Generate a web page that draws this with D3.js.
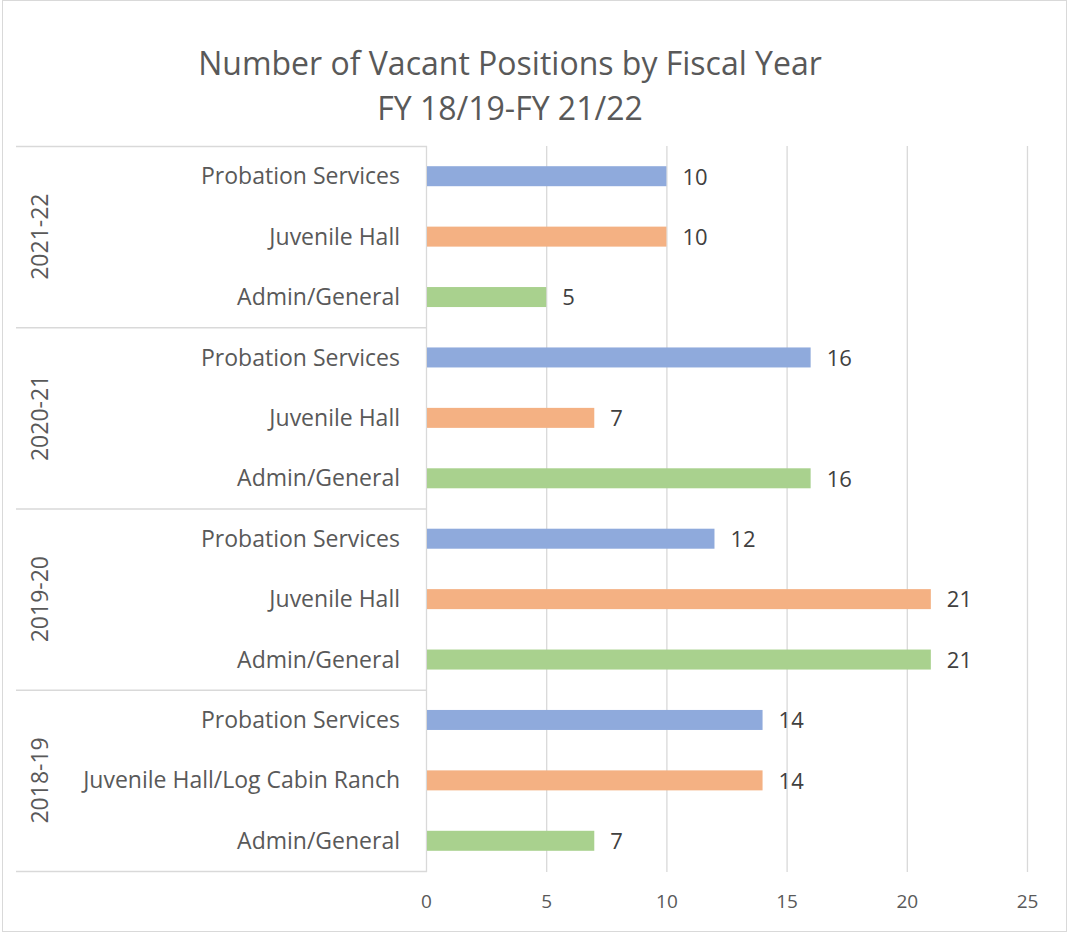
<!DOCTYPE html>
<html>
<head>
<meta charset="utf-8">
<script src="https://cdn.jsdelivr.net/npm/d3@7"></script>
<style>
  body { margin: 0; background: #fff; }
  text { font-family: "Open Sans", sans-serif; }
</style>
</head>
<body>
<div id="chart"></div>
<script>
// fiscal years, top to bottom
const years = ["2021-22", "2020-21", "2019-20", "2018-19"];
const units = [
    ["Probation Services", "Juvenile Hall", "Admin/General"],
    ["Probation Services", "Juvenile Hall", "Admin/General"],
    ["Probation Services", "Juvenile Hall", "Admin/General"],
    ["Probation Services", "Juvenile Hall/Log Cabin Ranch", "Admin/General"]
];
const vacancies = [
    [10, 10, 5],
    [16, 7, 16],
    [12, 21, 21],
    [14, 14, 7]
];
const xTicks = [0, 5, 10, 15, 20, 25];
const colors = ["#8faadc", "#f4b183", "#a9d18e"];

const W = 1068, H = 934;
const plot = { left: 426, right: 1027, top: 146, bottom: 871 };

const svg = d3.select("#chart").append("svg")
    .attr("width", W)
    .attr("height", H);

svg.append("rect")
    .attr("x", 2.5).attr("y", 0.5)
    .attr("width", W - 4).attr("height", H - 3)
    .attr("fill", "#fff")
    .attr("stroke", "#d9d9d9");

// title
const title = svg.append("text")
    .attr("text-anchor", "middle")
    .attr("fill", "#595959")
    .style("font-size", "32px");
title.append("tspan").attr("x", 510).attr("y", 75).text("Number of Vacant Positions by Fiscal Year");
title.append("tspan").attr("x", 510).attr("y", 120).text("FY 18/19-FY 21/22");

const x = d3.scaleLinear().domain([0, 25]).range([plot.left, plot.right]);

const rows = [];
years.forEach((yr, i) => {
    units[i].forEach((u, j) => {
        rows.push({ key: yr + "|" + j, year: yr, unit: u, value: vacancies[i][j], k: j });
    });
});

const yGroup = d3.scaleBand().domain(years).range([plot.top, plot.bottom]);
const y = d3.scaleBand().domain(rows.map(d => d.key)).range([plot.top, plot.bottom]);
const barH = 20;

// gridlines
svg.append("g")
    .selectAll("line")
    .data(xTicks.slice(1))
    .enter().append("line")
    .attr("x1", d => x(d) + 0.5).attr("x2", d => x(d) + 0.5)
    .attr("y1", plot.top).attr("y2", plot.bottom + 1)
    .attr("stroke", "#d9d9d9")
    .attr("stroke-width", 1.3);

// category axis lines
svg.append("line")
    .attr("x1", plot.left + 0.5).attr("x2", plot.left + 0.5)
    .attr("y1", plot.top).attr("y2", plot.bottom + 1)
    .attr("stroke", "#d9d9d9").attr("stroke-width", 1.3);

svg.append("g")
    .selectAll("line")
    .data(years.concat(["end"]))
    .enter().append("line")
    .attr("x1", 16).attr("x2", plot.left + 1)
    .attr("y1", (d, i) => (i < years.length ? yGroup(d) : plot.bottom) + 0.5)
    .attr("y2", (d, i) => (i < years.length ? yGroup(d) : plot.bottom) + 0.5)
    .attr("stroke", "#d9d9d9").attr("stroke-width", 1.3);

// bars
svg.append("g")
    .selectAll("rect")
    .data(rows)
    .enter().append("rect")
    .attr("x", x(0) + 1)
    .attr("y", d => y(d.key) + y.bandwidth() / 2 - barH / 2)
    .attr("width", d => x(d.value) - x(0) - 1)
    .attr("height", barH)
    .attr("fill", d => colors[d.k]);

// value labels
svg.append("g")
    .selectAll("text")
    .data(rows)
    .enter().append("text")
    .attr("x", d => x(d.value) + 16)
    .attr("y", d => y(d.key) + y.bandwidth() / 2)
    .attr("dy", "0.38em")
    .attr("fill", "#404040")
    .style("font-size", "22px")
    .text(d => d.value);

// unit labels
svg.append("g")
    .selectAll("text")
    .data(rows)
    .enter().append("text")
    .attr("x", 400)
    .attr("y", d => y(d.key) + y.bandwidth() / 2)
    .attr("dy", "0.35em")
    .attr("text-anchor", "end")
    .attr("fill", "#595959")
    .style("font-size", "23px")
    .text(d => d.unit);

// year labels
svg.append("g")
    .selectAll("text")
    .data(years)
    .enter().append("text")
    .attr("transform", d => "translate(40," + (yGroup(d) + yGroup.bandwidth() / 2) + ") rotate(-90)")
    .attr("text-anchor", "middle")
    .attr("dy", "0.35em")
    .attr("fill", "#595959")
    .style("font-size", "23px")
    .text(d => d);

// value axis
const xAxis = svg.append("g")
    .attr("transform", "translate(0," + plot.bottom + ")")
    .call(d3.axisBottom(x).tickValues(xTicks).tickSize(0).tickPadding(24));
xAxis.select(".domain").remove();
xAxis.selectAll("text")
    .attr("fill", "#595959")
    .style("font-size", "19px")
    .style("font-family", "'Open Sans', sans-serif");
</script>
</body>
</html>
